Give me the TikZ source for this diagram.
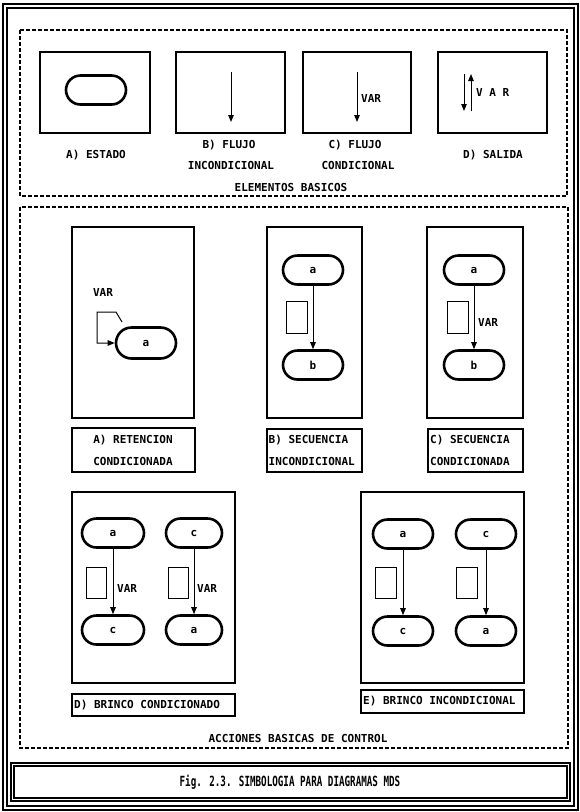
\documentclass[tikz,border=0pt]{standalone}
\usepackage{fontspec}
\usepackage{graphicx}
\newfontfamily\dmono{DejaVu Sans Mono}
\usetikzlibrary{arrows.meta}
\begin{document}
\begin{tikzpicture}[x=1pt,y=-1pt,
  lbl/.style={font=\dmono\bfseries\fontsize{11}{12}\selectfont, inner sep=0pt},
  panel/.style={draw, line width=1.5pt},
  group/.style={draw, line width=1.3pt, dash pattern=on 4pt off 2pt},
  dbl/.style={draw, line width=1.1pt},
  state/.style={draw, line width=2.6pt, rectangle, rounded corners=14.5pt,
    minimum width=60pt, minimum height=29pt, inner sep=0pt,
    font=\dmono\bfseries\fontsize{11}{12}\selectfont},
  flow/.style={-{Triangle[length=7pt,width=5.5pt]}, line width=1pt},
  memo/.style={draw, line width=1pt, minimum width=21pt, minimum height=32pt, inner sep=0pt},
]
\useasboundingbox (0,0) rectangle (580,812);

% outer double frame
\draw[dbl] (3,4) rectangle (578,810);
\draw[dbl] (7,8) rectangle (574,806);

% groups
\draw[group] (20,30) rectangle (567,196);
\draw[group] (20,207) rectangle (568,748);

% ---------- basic elements ----------
\draw[panel] (40,52) rectangle (150,133);
\draw[panel] (176,52) rectangle (285,133);
\draw[panel] (303,52) rectangle (411,133);
\draw[panel] (438,52) rectangle (547,133);

\node[state] (est) at (96,90) {};

\coordinate (fbS) at (231,72);
\coordinate (fbE) at (231,122);
\draw[flow] (fbS) -- (fbE);

\coordinate (fcS) at (357,72);
\coordinate (fcE) at (357,122);
\draw[flow] (fcS) -- (fcE);
\node[lbl, anchor=west] (fcv) at (361,98) {VAR};

\coordinate (sdS) at (464,74);
\coordinate (sdE) at (464,111);
\coordinate (suS) at (471,111);
\coordinate (suE) at (471,74);
\draw[flow] (sdS) -- (sdE);
\draw[flow] (suS) -- (suE);
\node[lbl, anchor=west] (sdv) at (476,92) {V A R};

\node[lbl] (ta) at (96,155) {A) ESTADO};
\node[lbl] (tb1) at (229,145) {B) FLUJO};
\node[lbl] (tb2) at (231,165) {INCONDICIONAL};
\node[lbl] (tc1) at (355,145) {C) FLUJO};
\node[lbl] (tc2) at (358,165) {CONDICIONAL};
\node[lbl] (td) at (493,155) {D) SALIDA};
\node[lbl] (tel) at (291,187) {ELEMENTOS BASICOS};

% ---------- A) retencion condicionada ----------
\draw[panel] (72,227) rectangle (194,418);
\draw[panel] (72,428) rectangle (195,472);
\node[state, minimum height=31pt, rounded corners=15.5pt] (ra) at (146,343) {a};
\node[lbl] (rav) at (103,292) {VAR};
\coordinate (raS) at (122,322);
\draw[flow] (raS) -- (116,312) -- (97,312) |- (ra.west);
\node[lbl] (la1) at (133,440) {A) RETENCION};
\node[lbl] (la2) at (133,461) {CONDICIONADA};

% ---------- B) secuencia incondicional ----------
\draw[panel] (267,227) rectangle (362,418);
\draw[panel] (267,429) rectangle (362,472);
\node[state] (sba) at (313,270) {a};
\node[state] (sbb) at (313,365) {b};
\draw[flow] (sba) -- (sbb);
\node[memo] (sbm) at (296.5,317) {};
\node[lbl, anchor=west] (lb1) at (268.5,440) {B) SECUENCIA};
\node[lbl, anchor=west] (lb2) at (268.5,461) {INCONDICIONAL};

% ---------- C) secuencia condicionada ----------
\draw[panel] (427,227) rectangle (523,418);
\draw[panel] (428,429) rectangle (523,472);
\node[state] (sca) at (474,270) {a};
\node[state] (scb) at (474,365) {b};
\draw[flow] (sca) -- (scb);
\node[memo] (scm) at (457.5,317) {};
\node[lbl, anchor=west] (scv) at (478,322) {VAR};
\node[lbl, anchor=west] (lc1) at (430,440) {C) SECUENCIA};
\node[lbl, anchor=west] (lc2) at (430,461) {CONDICIONADA};

% ---------- D) brinco condicionado ----------
\draw[panel] (72,492) rectangle (235,683);
\draw[panel] (72,694) rectangle (235,716);
\node[state, minimum width=62pt] (d1a) at (113,533) {a};
\node[state, minimum width=62pt] (d1c) at (113,630) {c};
\node[state, minimum width=56pt] (d2c) at (194,533) {c};
\node[state, minimum width=56pt] (d2a) at (194,630) {a};
\draw[flow] (d1a) -- (d1c);
\draw[flow] (d2c) -- (d2a);
\node[memo, minimum width=20pt, minimum height=31pt] (d1m) at (96,582.5) {};
\node[memo, minimum width=20pt, minimum height=31pt] (d2m) at (178,582.5) {};
\node[lbl, anchor=west] (d1v) at (117,588) {VAR};
\node[lbl, anchor=west] (d2v) at (197,588) {VAR};
\node[lbl, anchor=west] (ld) at (74,705) {D) BRINCO CONDICIONADO};

% ---------- E) brinco incondicional ----------
\draw[panel] (361,492) rectangle (524,683);
\draw[panel] (361,690) rectangle (524,713);
\node[state] (e1a) at (403,534) {a};
\node[state] (e1c) at (403,631) {c};
\node[state] (e2c) at (486,534) {c};
\node[state] (e2a) at (486,631) {a};
\draw[flow] (e1a) -- (e1c);
\draw[flow] (e2c) -- (e2a);
\node[memo, minimum width=21pt, minimum height=31pt] (e1m) at (385.5,582.5) {};
\node[memo, minimum width=21pt, minimum height=31pt] (e2m) at (466.5,582.5) {};
\node[lbl, anchor=west] (le) at (363,701.5) {E) BRINCO INCONDICIONAL};

\node[lbl] (tac) at (298,738) {ACCIONES BASICAS DE CONTROL};

% ---------- caption ----------
\draw[dbl] (11,763) rectangle (570,801);
\draw[dbl] (14,766) rectangle (567,798);
\node[inner sep=0pt] (cap) at (290,782)
  {\scalebox{0.66}[1]{\dmono\bfseries\fontsize{14}{16}\selectfont Fig. 2.3. SIMBOLOGIA PARA DIAGRAMAS MDS}};
\end{tikzpicture}
\end{document}
